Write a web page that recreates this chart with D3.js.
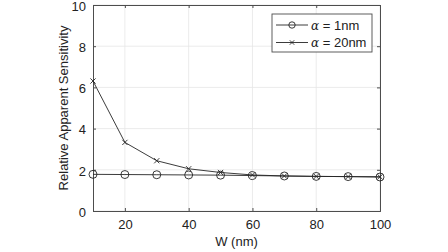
<!DOCTYPE html>
<html><head><meta charset="utf-8">
<script src="https://cdn.jsdelivr.net/npm/d3@7"></script>
<style>body{margin:0;background:#fff}svg{display:block;font-family:"Liberation Sans",Arial,sans-serif}</style>
</head><body><svg id="c" width="448" height="252"></svg>
<script>
const W = [10,20,30,40,50,60,70,80,90,100];
const alpha1 = [1.78,1.77,1.76,1.75,1.74,1.72,1.70,1.68,1.67,1.65];
const alpha20 = [6.31,3.33,2.44,2.05,1.87,1.75,1.70,1.68,1.67,1.66];
const xTicks = [20,40,60,80,100];
const yTicks = [0,2,4,6,8,10];
const seriesNames = ["1nm","20nm"];

const svg = d3.select("#c");
const L=93, R=380, T=5, B=211;
const FS = 13;
const x = d3.scaleLinear().domain([10,100]).range([L,R]);
const y = d3.scaleLinear().domain([0,10]).range([B,T]);
const axisCol = "#4d4d4d";

// grid
svg.append("g").selectAll("line").data(xTicks).join("line")
  .attr("x1",d=>x(d)).attr("x2",d=>x(d)).attr("y1",T).attr("y2",B)
  .attr("stroke","#e6e6e6").attr("stroke-width",0.8);
svg.append("g").selectAll("line").data(yTicks).join("line")
  .attr("y1",d=>y(d)).attr("y2",d=>y(d)).attr("x1",L).attr("x2",R)
  .attr("stroke","#e6e6e6").attr("stroke-width",0.8);

// axes
const xa = svg.append("g").attr("transform",`translate(0,${B})`)
  .call(d3.axisBottom(x).tickValues(xTicks).tickSize(-3).tickPadding(9));
const xt = svg.append("g").attr("transform",`translate(0,${T})`)
  .call(d3.axisTop(x).tickValues(xTicks).tickSize(-3).tickFormat(""));
const ya = svg.append("g").attr("transform",`translate(${L},0)`)
  .call(d3.axisLeft(y).tickValues(yTicks).tickSize(-3).tickPadding(7));
const yr = svg.append("g").attr("transform",`translate(${R},0)`)
  .call(d3.axisRight(y).tickValues(yTicks).tickSize(-3).tickFormat(""));
[xa,xt,ya,yr].forEach(g=>{
  g.select(".domain").attr("stroke",axisCol).attr("stroke-width",1);
  g.selectAll(".tick line").attr("stroke",axisCol);
  g.selectAll("text").attr("fill","#222").attr("font-size",FS)
   .attr("font-family","Liberation Sans, Arial, sans-serif");
});
ya.selectAll("text").attr("dy","0.4em");

// lines
const line = d3.line().x((d,i)=>x(W[i])).y(d=>y(d));
const col = "#262626";
svg.append("path").datum(alpha1).attr("d",line).attr("fill","none").attr("stroke",col).attr("stroke-width",0.9);
svg.append("path").datum(alpha20).attr("d",line).attr("fill","none").attr("stroke",col).attr("stroke-width",0.9);
svg.append("g").selectAll("circle").data(alpha1).join("circle")
  .attr("cx",(d,i)=>x(W[i])).attr("cy",d=>y(d)).attr("r",4)
  .attr("fill","none").attr("stroke",col).attr("stroke-width",0.9);
const cross = (g,cx,cy,s)=>{
  g.append("path").attr("d",`M${cx-s},${cy-s}L${cx+s},${cy+s}M${cx-s},${cy+s}L${cx+s},${cy-s}`)
   .attr("stroke",col).attr("stroke-width",0.9);
};
const cg = svg.append("g");
alpha20.forEach((d,i)=>cross(cg,x(W[i]),y(d),2.6));

// labels
svg.append("text").attr("x",(L+R)/2).attr("y",246).attr("text-anchor","middle")
  .attr("font-size",FS).attr("fill","#222").text("W (nm)");
svg.append("text").attr("transform",`translate(68,${(T+B)/2}) rotate(-90)`)
  .attr("text-anchor","middle").attr("font-size",FS).attr("fill","#222")
  .text("Relative Apparent Sensitivity");

// legend
const lg = svg.append("g");
lg.append("rect").attr("x",272).attr("y",14).attr("width",100).attr("height",38)
  .attr("fill","#fff").attr("stroke",axisCol).attr("stroke-width",0.9);
seriesNames.forEach((n,i)=>{
  const yy = 25 + i*17.5;
  lg.append("line").attr("x1",276).attr("x2",308).attr("y1",yy).attr("y2",yy)
    .attr("stroke",col).attr("stroke-width",0.9);
  if(i===0) lg.append("circle").attr("cx",292).attr("cy",yy).attr("r",3.2)
    .attr("fill","none").attr("stroke",col).attr("stroke-width",0.9);
  else cross(lg,292,yy,2.2);
  const t = lg.append("text").attr("x",311).attr("y",yy+4.5).attr("font-size",FS).attr("fill","#222");
  t.append("tspan").attr("font-style","italic").attr("font-family","DejaVu Serif, serif").attr("font-size",12).text("α");
  t.append("tspan").text(" = "+n);
});
</script></body></html>
